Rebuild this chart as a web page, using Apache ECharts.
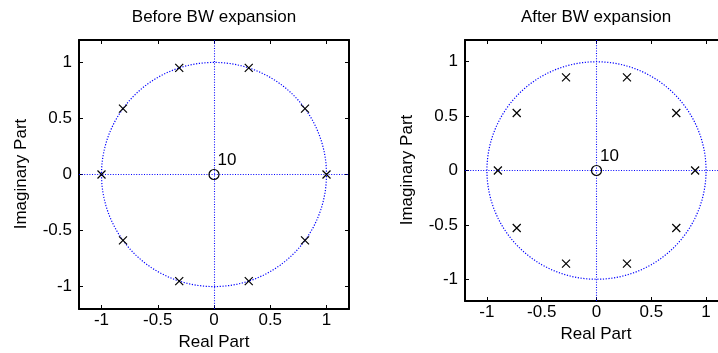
<!DOCTYPE html>
<html>
<head>
<meta charset="utf-8">
<script src="https://cdn.jsdelivr.net/npm/echarts@6/dist/echarts.min.js"></script>
<style>
html,body{margin:0;padding:0;background:#fff;overflow:hidden;width:718px;height:353px;}
#c{width:745px;height:353px;}
</style>
</head>
<body>
<div id="c"></div>
<script>
// ---- data ----
var titles = ['Before BW expansion', 'After BW expansion'];
var xName = 'Real Part';
var yName = 'Imaginary Part';
var tickValues = [-1, -0.5, 0, 0.5, 1];
var axisMin = -1.2, axisMax = 1.2;
var unitRadius = 1;
// poles before bandwidth expansion (radius 1)
var polesBeforeRe = [1, 0.809, 0.309, -0.309, -0.809, -1, -0.809, -0.309, 0.309, 0.809];
var polesBeforeIm = [0, 0.588, 0.951, 0.951, 0.588, 0, -0.588, -0.951, -0.951, -0.588];
// poles after bandwidth expansion (radius 0.9)
var polesAfterRe = [0.9, 0.728, 0.278, -0.278, -0.728, -0.9, -0.728, -0.278, 0.278, 0.728];
var polesAfterIm = [0, 0.529, 0.856, 0.856, 0.529, 0, -0.529, -0.856, -0.856, -0.529];
// zeros (10 at origin)
var zerosRe = [0];
var zerosIm = [0];
var zeroMultiplicity = '10';

var FONT = 'Liberation Sans, Arial, sans-serif';
var FS = 17;

function pairs(re, im) { return re.map(function (v, i) { return [v, im[i]]; }); }

var grids = [
  { left: 79, top: 40, width: 270, height: 269, outerBoundsMode: 'none', containLabel: false },
  { left: 465, top: 40, width: 263, height: 261, outerBoundsMode: 'none', containLabel: false }
];

var xAxes = [], yAxes = [], series = [];
var blueDot = { color: '#0000ff', width: 1.1, type: [1, 1.6] };

grids.forEach(function (g, gi) {
  [0, 1].forEach(function (k) {
    xAxes.push({
      gridIndex: gi, type: 'value', min: axisMin, max: axisMax,
      position: k === 0 ? 'bottom' : 'top',
      axisLine: { show: true, onZero: false, lineStyle: { color: '#000', width: 2 } },
      axisTick: { show: true, inside: true, length: 4, customValues: tickValues, lineStyle: { color: '#000', width: 1 } },
      axisLabel: { show: k === 0, customValues: tickValues, color: '#000', fontFamily: FONT, fontSize: FS, margin: 3 },
      splitLine: { show: false }
    });
    var diag = (gi === 1 && k === 1);
    yAxes.push({
      gridIndex: gi, type: 'value', min: axisMin, max: axisMax,
      position: k === 0 ? 'left' : 'right',
      axisLine: { show: true, onZero: false, lineStyle: { color: diag ? '#f00' : '#000', width: 2 } },
      axisTick: { show: true, inside: true, length: 4, customValues: tickValues, lineStyle: { color: '#000', width: 1 } },
      axisLabel: { show: k === 0, customValues: tickValues, color: '#000', fontFamily: FONT, fontSize: FS, margin: 7 },
      splitLine: { show: false }
    });
  });
});

var poleSets = [pairs(polesBeforeRe, polesBeforeIm), pairs(polesAfterRe, polesAfterIm)];

grids.forEach(function (g, gi) {
  var xi = gi * 2, yi = gi * 2;
  series.push({
    type: 'custom', xAxisIndex: xi, yAxisIndex: yi, silent: true, z: 1,
    data: [[0, 0, unitRadius]],
    renderItem: function (params, api) {
      var r = api.value(2), pts = [];
      for (var i = 0; i <= 360; i += 2) {
        var a = i * Math.PI / 180;
        pts.push(api.coord([r * Math.cos(a), r * Math.sin(a)]));
      }
      return { type: 'polyline', shape: { points: pts },
        style: { stroke: '#0000ff', lineWidth: 1.2, lineDash: [1.2, 1.6], fill: null } };
    }
  });
  series.push({
    type: 'scatter', xAxisIndex: xi, yAxisIndex: yi, z: 5,
    data: pairs(zerosRe, zerosIm),
    symbol: 'circle', symbolSize: 10,
    itemStyle: { color: 'rgba(0,0,0,0)', borderColor: '#000', borderWidth: 1.2, opacity: 1 },
    label: { show: true, formatter: zeroMultiplicity, position: 'right', distance: 0, offset: [-2, -14],
      color: '#000', fontFamily: FONT, fontSize: FS },
    markLine: {
      silent: true, symbol: 'none', label: { show: false }, z: 1,
      lineStyle: blueDot, animation: false,
      data: [{ xAxis: 0 }, { yAxis: 0 }]
    },
    animation: false
  });
  series.push({
    type: 'scatter', xAxisIndex: xi, yAxisIndex: yi, z: 6,
    data: poleSets[gi],
    symbol: 'path://M0,0L10,10M10,0L0,10', symbolSize: 8,
    itemStyle: { color: 'rgba(0,0,0,0)', borderColor: '#000', borderWidth: 1.2, opacity: 1 },
    animation: false
  });
});

function txt(x, y, s, rot) {
  return { type: 'text', x: x, y: y, rotation: rot || 0, silent: true,
    style: { text: s, fill: '#000', font: FS + 'px ' + FONT, textAlign: 'center', textVerticalAlign: 'middle' } };
}

var option = {
  backgroundColor: '#fff',
  animation: false,
  grid: grids,
  xAxis: xAxes,
  yAxis: yAxes,
  series: series,
  graphic: [
    txt(214, 17, titles[0]),
    txt(596, 17, titles[1]),
    txt(214, 342, xName),
    txt(596, 334, xName),
    txt(21, 174, yName, Math.PI / 2),
    txt(407, 170, yName, Math.PI / 2)
  ]
};

var chart = echarts.init(document.getElementById('c'), null, { renderer: 'canvas' });
chart.setOption(option);
</script>
</body>
</html>
